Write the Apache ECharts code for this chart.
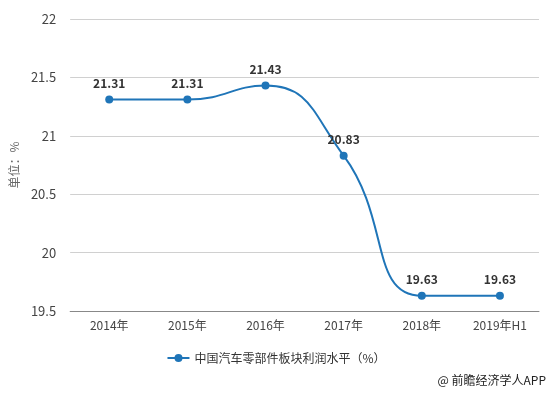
<!DOCTYPE html>
<html><head><meta charset="utf-8">
<script src="https://cdn.jsdelivr.net/npm/echarts@6/dist/echarts.min.js"></script>
<style>html,body{margin:0;padding:0;background:#fff}#c{width:552px;height:395px}</style>
</head><body><div id="c"></div>
<script>
const categories = ['2014年','2015年','2016年','2017年','2018年','2019年H1'];
const profitValues = [21.31, 21.31, 21.43, 20.83, 19.63, 19.63];
const seriesName = '中国汽车零部件板块利润水平（%）';
const yAxisName = '单位：%';
const sourceText = '@ 前瞻经济学人APP';

const chart = echarts.init(document.getElementById('c'));
chart.setOption({
  backgroundColor: '#fff',
  textStyle: {fontFamily: '"Noto Sans CJK SC", "Microsoft YaHei", sans-serif'},
  grid: {left: 70, right: 13, top: 19, bottom: 84},
  graphic: [{
    type: 'text', right: 6, top: 374,
    style: {text: sourceText, fill: '#222', fontSize: 12, fontFamily: '"Noto Sans CJK SC", sans-serif'}
  }],
  legend: {
    bottom: 26, left: 'center',
    itemWidth: 22, itemHeight: 10,
    textStyle: {fontSize: 12, color: '#333'},
    data: [seriesName]
  },
  xAxis: {
    type: 'category', data: categories, boundaryGap: true,
    axisLine: {lineStyle: {color: '#888'}},
    axisTick: {alignWithLabel: true, lineStyle: {color: '#888'}},
    axisLabel: {color: '#444', fontSize: 12, margin: 8}
  },
  yAxis: {
    type: 'value', min: 19.5, max: 22, interval: 0.5,
    name: yAxisName, nameLocation: 'middle', nameGap: 46, nameRotate: 90,
    nameTextStyle: {color: '#666', fontSize: 12},
    axisLine: {show: false}, axisTick: {show: false},
    axisLabel: {color: '#444', fontSize: 13, margin: 14},
    splitLine: {lineStyle: {color: '#d0d0d0'}}
  },
  series: [{
    name: seriesName, type: 'line', data: profitValues, smooth: 0.5,
    symbol: 'circle', symbolSize: 8,
    itemStyle: {color: '#1f75b8'},
    lineStyle: {width: 2, color: '#1f75b8'},
    label: {show: true, position: 'top', color: '#333', fontWeight: 'bold', fontSize: 12, distance: 6,
      formatter: p => p.value.toFixed(2)}
  }]
});
</script></body></html>
